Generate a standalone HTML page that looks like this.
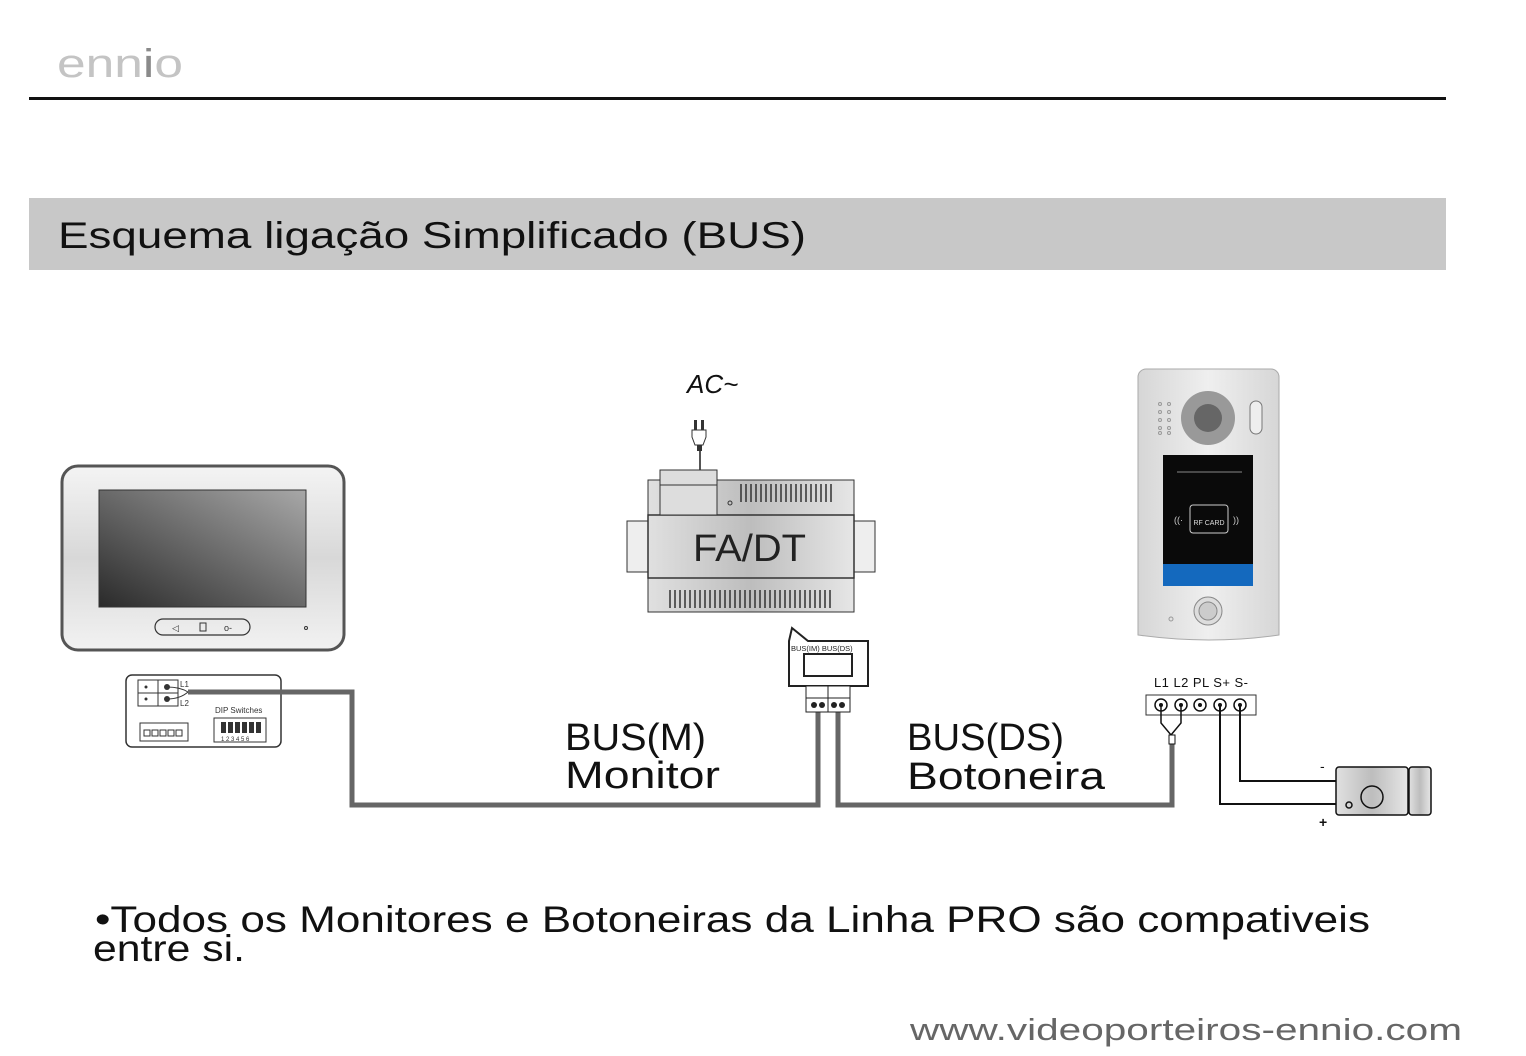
<!DOCTYPE html>
<html><head><meta charset="utf-8"><style>
html,body{margin:0;padding:0;background:#fff;}
svg{display:block;font-family:"Liberation Sans","DejaVu Sans",sans-serif;}
</style></head><body>
<svg width="1526" height="1056" viewBox="0 0 1526 1056" xmlns="http://www.w3.org/2000/svg">
<defs>
<linearGradient id="scr" x1="1" y1="0" x2="0" y2="1"><stop offset="0" stop-color="#a8a8a8"/><stop offset="1" stop-color="#2a2a2a"/></linearGradient>
<linearGradient id="frame" x1="0" y1="0" x2="0" y2="1"><stop offset="0" stop-color="#f4f4f4"/><stop offset="0.5" stop-color="#d8d8d8"/><stop offset="1" stop-color="#f2f2f2"/></linearGradient>
<linearGradient id="met" x1="0" y1="0" x2="1" y2="0"><stop offset="0" stop-color="#e0e0e0"/><stop offset="0.5" stop-color="#bdbdbd"/><stop offset="1" stop-color="#e6e6e6"/></linearGradient>
<linearGradient id="ds" x1="0" y1="0" x2="1" y2="0"><stop offset="0" stop-color="#d6d6d6"/><stop offset="0.5" stop-color="#efefef"/><stop offset="1" stop-color="#d6d6d6"/></linearGradient>
</defs>
<text x="57" y="77" font-size="40" fill="#c4c4c4" textLength="126" lengthAdjust="spacingAndGlyphs">enn<tspan fill="#8a8a8a">i</tspan>o</text>
<rect x="29" y="97" width="1417" height="3" fill="#111"/>
<rect x="29" y="198" width="1417" height="72" fill="#c8c8c8"/>
<text x="58" y="248" font-size="37" fill="#111" textLength="748" lengthAdjust="spacingAndGlyphs">Esquema ligação Simplificado (BUS)</text>

<!-- Monitor -->
<rect x="62" y="466" width="282" height="184" rx="16" fill="url(#frame)" stroke="#555" stroke-width="3"/>
<rect x="99" y="490" width="207" height="117" fill="url(#scr)" stroke="#333"/>
<rect x="155" y="619" width="95" height="16" rx="8" fill="none" stroke="#333" stroke-width="1.2"/>
<text x="172" y="631" font-size="9" fill="#333">◁</text><rect x="200" y="623" width="6" height="8" fill="none" stroke="#333"/><text x="224" y="631" font-size="9" fill="#333">o-</text>
<circle cx="306" cy="628" r="1.5" fill="none" stroke="#333"/>

<!-- monitor terminal box -->
<rect x="126" y="675" width="155" height="72" rx="6" fill="#fff" stroke="#333" stroke-width="1.5"/>
<rect x="138" y="680" width="20" height="26" fill="none" stroke="#333"/><rect x="158" y="680" width="20" height="26" fill="none" stroke="#333"/>
<line x1="138" y1="693" x2="178" y2="693" stroke="#333"/>
<circle cx="146" cy="687" r="1.5" fill="#333"/><circle cx="146" cy="699" r="1.5" fill="#333"/>
<circle cx="167" cy="687" r="3" fill="#333"/><circle cx="167" cy="699" r="3" fill="#333"/>
<path d="M167 687 Q180 687 188 692 M167 699 Q180 699 188 692" stroke="#333" fill="none"/>
<text x="180" y="687" font-size="8" fill="#333">L1</text><text x="180" y="706" font-size="8" fill="#333">L2</text>
<rect x="140" y="723" width="48" height="18" fill="none" stroke="#333"/>
<g fill="none" stroke="#333"><rect x="144" y="730" width="6" height="6"/><rect x="152" y="730" width="6" height="6"/><rect x="160" y="730" width="6" height="6"/><rect x="168" y="730" width="6" height="6"/><rect x="176" y="730" width="6" height="6"/></g>
<text x="215" y="713" font-size="8" fill="#333">DIP Switches</text>
<rect x="214" y="718" width="52" height="24" fill="none" stroke="#333"/>
<g fill="#333"><rect x="221" y="722" width="5" height="11"/><rect x="228" y="722" width="5" height="11"/><rect x="235" y="722" width="5" height="11"/><rect x="242" y="722" width="5" height="11"/><rect x="249" y="722" width="5" height="11"/><rect x="256" y="722" width="5" height="11"/></g>
<text x="221" y="741" font-size="6" fill="#333">1 2 3 4 5 6</text>

<!-- wires -->
<polyline points="188,692 352,692 352,805 818,805 818,712" fill="none" stroke="#666" stroke-width="5"/>
<polyline points="838,712 838,805 1172,805 1172,742" fill="none" stroke="#666" stroke-width="5"/>

<!-- FA/DT -->
<text x="687" y="393" font-size="26" font-style="italic" fill="#111">AC~</text>
<rect x="694" y="420" width="3" height="10" fill="#333"/><rect x="701" y="420" width="3" height="10" fill="#333"/>
<path d="M692 430 h14 v7 l-3 8 h-8 l-3 -8 z" fill="#fff" stroke="#333"/>
<rect x="697" y="445" width="5" height="6" fill="#333"/>
<line x1="700" y1="451" x2="700" y2="470" stroke="#555" stroke-width="2"/>
<rect x="627" y="521" width="21" height="51" fill="#eee" stroke="#333"/>
<rect x="854" y="521" width="21" height="51" fill="#eee" stroke="#333"/>
<rect x="648" y="480" width="206" height="132" fill="url(#met)" stroke="#333"/>
<rect x="648" y="515" width="206" height="63" fill="url(#met)" stroke="#333" stroke-width="1.5"/>
<rect x="660" y="470" width="57" height="45" fill="#ddd" stroke="#333"/>
<line x1="660" y1="485" x2="717" y2="485" stroke="#333"/>
<circle cx="730" cy="503" r="2" fill="none" stroke="#333"/>
<g stroke="#333" stroke-width="1.5"><path d="M741 484v18M746 484v18M751 484v18M756 484v18M761 484v18M766 484v18M771 484v18M776 484v18M781 484v18M786 484v18M791 484v18M796 484v18M801 484v18M806 484v18M811 484v18M816 484v18M821 484v18M826 484v18M831 484v18"/>
<path d="M670 590v18M675 590v18M680 590v18M685 590v18M690 590v18M695 590v18M700 590v18M705 590v18M710 590v18M715 590v18M720 590v18M725 590v18M730 590v18M735 590v18M740 590v18M745 590v18M750 590v18M755 590v18M760 590v18M765 590v18M770 590v18M775 590v18M780 590v18M785 590v18M790 590v18M795 590v18M800 590v18M805 590v18M810 590v18M815 590v18M820 590v18M825 590v18M830 590v18"/></g>
<text x="693" y="561" font-size="38" fill="#222" textLength="113" lengthAdjust="spacingAndGlyphs">FA/DT</text>

<!-- callout -->
<path d="M789 641 L792 628 L808 641 L868 641 L868 686 L789 686 Z" fill="#fff" stroke="#222" stroke-width="2"/>
<text x="791" y="651" font-size="7.5" fill="#222">BUS(IM)  BUS(DS)</text>
<rect x="804" y="654" width="48" height="22" fill="none" stroke="#222" stroke-width="2"/>
<rect x="806" y="686" width="44" height="12" fill="#fff" stroke="#222"/>
<rect x="806" y="698" width="44" height="14" fill="#fff" stroke="#222"/>
<line x1="828" y1="686" x2="828" y2="712" stroke="#222"/>
<g fill="#222"><circle cx="814" cy="705" r="3"/><circle cx="822" cy="705" r="3"/><circle cx="834" cy="705" r="3"/><circle cx="842" cy="705" r="3"/></g>

<text x="565" y="750" font-size="38" fill="#111" textLength="141" lengthAdjust="spacingAndGlyphs">BUS(M)</text>
<text x="565" y="788" font-size="38" fill="#111" textLength="155" lengthAdjust="spacingAndGlyphs">Monitor</text>
<text x="907" y="750" font-size="38" fill="#111" textLength="157" lengthAdjust="spacingAndGlyphs">BUS(DS)</text>
<text x="907" y="789" font-size="38" fill="#111" textLength="198" lengthAdjust="spacingAndGlyphs">Botoneira</text>

<!-- door station -->
<path d="M1146 369 h125 a8 8 0 0 1 8 8 v258 q-70 10 -141 0 v-258 a8 8 0 0 1 8 -8z" fill="url(#ds)" stroke="#aaa"/>
<g fill="none" stroke="#999"><circle cx="1160" cy="404" r="1.5"/><circle cx="1169" cy="404" r="1.5"/><circle cx="1160" cy="412" r="1.5"/><circle cx="1169" cy="412" r="1.5"/><circle cx="1160" cy="420" r="1.5"/><circle cx="1169" cy="420" r="1.5"/><circle cx="1160" cy="428" r="1.5"/><circle cx="1169" cy="428" r="1.5"/><circle cx="1160" cy="433" r="1.5"/><circle cx="1169" cy="433" r="1.5"/></g>
<circle cx="1208" cy="418" r="27" fill="#999"/><circle cx="1208" cy="418" r="14" fill="#666"/>
<rect x="1250" y="401" width="12" height="33" rx="6" fill="#eee" stroke="#777"/>
<rect x="1163" y="455" width="90" height="131" fill="#0a0a0a"/>
<rect x="1163" y="564" width="90" height="22" fill="#1469be"/>
<line x1="1177" y1="472" x2="1242" y2="472" stroke="#888"/>
<rect x="1190" y="505" width="38" height="28" rx="3" fill="none" stroke="#ccc"/>
<text x="1209" y="525" font-size="7" fill="#ddd" text-anchor="middle">RF CARD</text>
<text x="1174" y="523" font-size="9" fill="#ccc">((·</text><text x="1233" y="523" font-size="9" fill="#ccc">))</text>
<circle cx="1208" cy="611" r="14" fill="#ddd" stroke="#888"/><circle cx="1208" cy="611" r="9" fill="#ccc" stroke="#888"/>
<circle cx="1171" cy="619" r="2" fill="none" stroke="#999"/>

<!-- terminal -->
<text x="1154" y="687" font-size="13" fill="#111" textLength="94" lengthAdjust="spacing">L1  L2  PL  S+ S-</text>
<rect x="1146" y="695" width="110" height="20" fill="#fff" stroke="#333"/>
<g fill="none" stroke="#111" stroke-width="1.5"><circle cx="1161" cy="705" r="6"/><circle cx="1181" cy="705" r="6"/><circle cx="1200" cy="705" r="6"/><circle cx="1220" cy="705" r="6"/><circle cx="1240" cy="705" r="6"/></g>
<g fill="#111"><circle cx="1161" cy="705" r="2"/><circle cx="1181" cy="705" r="2"/><circle cx="1200" cy="705" r="2"/><circle cx="1220" cy="705" r="2"/><circle cx="1240" cy="705" r="2"/></g>
<path d="M1161 705 v18 l10 12 l10 -12 v-18" fill="none" stroke="#111" stroke-width="1.5"/>
<rect x="1169" y="735" width="6" height="9" fill="#fff" stroke="#111"/>
<polyline points="1240,705 1240,781 1336,781" fill="none" stroke="#111" stroke-width="2"/>
<polyline points="1220,705 1220,804 1336,804" fill="none" stroke="#111" stroke-width="2"/>
<text x="1320" y="771" font-size="14" fill="#111">-</text>
<text x="1319" y="827" font-size="14" font-weight="bold" fill="#111">+</text>
<!-- lock -->
<rect x="1336" y="767" width="72" height="48" rx="3" fill="url(#met)" stroke="#111" stroke-width="1.5"/>
<rect x="1409" y="767" width="22" height="48" rx="3" fill="url(#met)" stroke="#111" stroke-width="1.5"/>
<circle cx="1372" cy="797" r="11" fill="none" stroke="#111" stroke-width="1.5"/>
<circle cx="1349" cy="805" r="3" fill="none" stroke="#111" stroke-width="1.5"/>

<text x="95" y="932" font-size="37" fill="#111" textLength="1275" lengthAdjust="spacingAndGlyphs">•Todos os Monitores e Botoneiras da Linha PRO são compativeis</text>
<text x="93" y="961" font-size="37" fill="#111" textLength="152" lengthAdjust="spacingAndGlyphs">entre si.</text>
<text x="910" y="1040" font-size="31" fill="#666" textLength="552" lengthAdjust="spacingAndGlyphs">www.videoporteiros-ennio.com</text>
</svg>
</body></html>
